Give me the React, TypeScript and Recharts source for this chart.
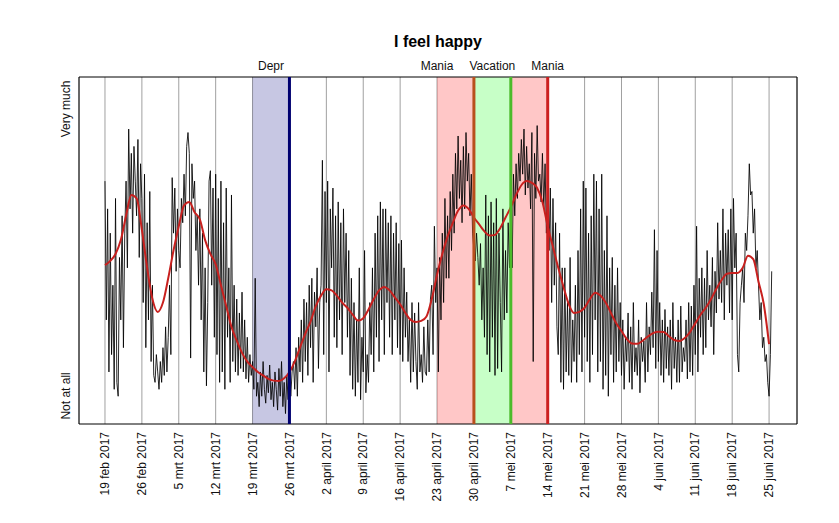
import React from 'react';
import { ComposedChart, Line, XAxis, YAxis, CartesianGrid, ReferenceArea, ReferenceLine } from 'recharts';

const FONT = '"Liberation Sans", Arial, sans-serif';

const chartTitle = 'I feel happy';

const weekLabels = [
  '19 feb 2017', '26 feb 2017', '5 mrt 2017', '12 mrt 2017', '19 mrt 2017', '26 mrt 2017',
  '2 april 2017', '9 april 2017', '16 april 2017', '23 april 2017', '30 april 2017',
  '7 mei 2017', '14 mei 2017', '21 mei 2017', '28 mei 2017', '4 juni 2017', '11 juni 2017',
  '18 juni 2017', '25 juni 2017',
];

const yTickValues = [8.1, 90.8];
const yTickLabels = ['Not at all', 'Very much'];

// four measurements per day, starting 19 feb 2017
const febScores = [
  70, 30, 62, 15, 55, 20, 40, 10, 65, 12, 8, 48, 30, 60, 22, 55, 70, 45, 85, 62,
  78, 55, 80, 70, 60, 82, 48, 75, 65, 35, 72, 22, 58, 30, 67, 18, 40, 14, 12, 20,
];
const mrtScores = [
  15, 10, 18, 12, 22, 14, 28, 15, 25, 40, 20, 71, 55, 68, 44, 62, 50, 45, 65, 58,
  72, 60, 80, 84, 78, 19, 75, 65, 70, 50, 60, 40, 62, 30, 55, 15, 45, 11, 35, 70,
  73, 40, 68, 25, 72, 20, 65, 12, 70, 15, 58, 10, 68, 25, 45, 12, 66, 18, 40, 15,
  36, 14, 32, 16, 38, 15, 30, 13, 25, 12, 20, 14, 18, 10, 42, 8, 12, 5, 15, 8,
  18, 10, 6, 14, 9, 17, 7, 12, 5, 15, 10, 4, 16, 8, 18, 5, 12, 3, 14, 7,
  20, 8, 15, 18, 10, 22, 8, 25, 15, 30, 12, 36, 18, 35, 14, 40, 22, 42, 12, 38,
  28, 45, 16, 35,
];
const aprilScores = [
  40, 76, 20, 67, 35, 70, 15, 62, 45, 68, 25, 60, 22, 64, 30, 58, 20, 62, 35, 55,
  25, 50, 14, 42, 10, 35, 8, 30, 12, 45, 7, 25, 15, 50, 9, 20, 12, 35, 20, 45,
  15, 55, 25, 60, 18, 64, 30, 62, 20, 62, 35, 58, 25, 60, 20, 55, 30, 58, 22, 52,
  20, 53, 18, 45, 25, 38, 18, 30, 12, 35, 15, 32, 18, 10, 35, 15, 20, 12, 28, 15,
  14, 30, 15, 36, 40, 20, 57, 35, 45, 15, 48, 30, 55, 35, 65, 42, 60, 42, 67, 50,
  72, 55, 78, 62, 83, 65, 76, 58, 80, 62, 84, 70, 78, 60, 72, 55, 50, 47, 55, 48,
];
const meiScores = [
  40, 52, 30, 45, 25, 66, 20, 60, 15, 64, 25, 58, 14, 65, 16, 55, 35, 15, 62, 30,
  50, 32, 58, 45, 62, 45, 72, 60, 75, 65, 78, 70, 82, 72, 85, 66, 80, 68, 75, 62,
  84, 18, 78, 65, 86, 70, 72, 64, 78, 62, 75, 55, 70, 50, 68, 35, 65, 40, 58, 28,
  20, 55, 12, 45, 10, 45, 15, 35, 14, 48, 12, 30, 18, 40, 12, 50, 20, 62, 15, 70,
  25, 68, 18, 55, 12, 60, 20, 72, 30, 70, 15, 62, 18, 72, 10, 50, 14, 60, 8, 45,
  20, 48, 12, 40, 15, 45, 18, 35, 14, 30, 10, 25, 18, 32, 12, 28, 10, 35, 15, 22,
  14, 30, 9, 25,
];
const juniScores = [
  18, 24, 12, 35, 15, 28, 20, 38, 22, 56, 16, 50, 18, 35, 14, 30, 12, 33, 16, 28,
  14, 30, 10, 35, 16, 25, 12, 30, 12, 34, 15, 22, 18, 30, 13, 35, 15, 34, 14, 40,
  20, 57, 15, 42, 25, 45, 20, 42, 22, 50, 30, 40, 28, 48, 20, 44, 32, 58, 36, 50,
  35, 62, 30, 55, 40, 56, 32, 62, 30, 65, 45, 55, 20, 15, 35, 40, 45, 35, 55, 50,
  60, 75, 66, 67, 55, 62, 45, 50, 40, 30, 35, 22, 25, 18, 20, 12, 8, 20, 44,
];

// smoothed trend, one value per day
const smoothTrend = [
  45.8, 47, 49, 53, 60, 66, 65, 56, 45, 36,
  32.3, 35, 42, 50, 57, 63, 64, 61, 59, 53,
  49, 46, 40, 34, 28, 24, 20.5, 18, 16.4, 15,
  14, 13, 12.5, 12.4, 13.2, 15, 18, 22, 26, 29.5,
  34, 37, 38.8, 38.5, 37, 35, 33.5, 31.5, 29.8, 30.5,
  33, 36, 38.5, 39.5, 38.5, 36.5, 34.5, 32, 30, 29.4,
  29.7, 31, 36, 43, 49, 54, 58, 61.5, 63, 62,
  59.5, 57.5, 55.5, 54.3, 54.5, 56.5, 59.5, 62.5, 66, 68.8,
  70, 69.5, 68, 64, 57, 51, 45, 39.5, 34.5, 32,
  32.3, 33.5, 36, 37.8, 37, 35, 32, 29, 26.8, 24.5,
  23.2, 23.1, 24, 25.2, 26.2, 26.6, 26.5, 25.3, 24.2, 23.9,
  24.8, 26.5, 29, 31.5, 33.5, 36, 39, 41.5, 43.3, 43.5,
  43.5, 45, 48.5, 47.5, 41, 34.5, 23,
];

const episodeStart = [28, 63, 70, 77];
const episodeEnd = [35, 70, 77, 84];
const episodeFill = ['#000080', '#ff0000', '#00ff00', '#ff0000'];
const episodeEndColor = ['#000070', '#b8501c', '#4cbb2a', '#cc2020'];
const labelNames = ['Depr', 'Mania', 'Vacation', 'Mania'];
const labelDays = [31.5, 63, 73.5, 84];

const X_DOMAIN: [number, number] = [-4.93, 131.3];
const Y_DOMAIN: [number, number] = [0, 100];

const allScores = [...febScores, ...mrtScores, ...aprilScores, ...meiScores, ...juniScores];
const rawData = allScores.map((v, i) => ({ day: i / 4, score: v }));
const trendData = smoothTrend.map((v, i) => ({ day: i, trend: v }));
const weekTicks = weekLabels.map((_, i) => i * 7);

const XTick = (props: any) => {
  const { x, y, payload } = props;
  const label = weekLabels[Math.round(payload.value / 7)];
  return (
    <g transform={`translate(${x},${y})`}>
      <text transform="rotate(-90)" x={-8} y={0} dy="0.35em" textAnchor="end" fontSize={12} fontFamily={FONT} fill="#111">
        {label}
      </text>
    </g>
  );
};

const YTick = (props: any) => {
  const { x, y, payload } = props;
  const idx = yTickValues.indexOf(payload.value);
  return (
    <g transform={`translate(${x - 13},${y})`}>
      <text transform="rotate(-90)" x={0} y={0} dy="0.35em" textAnchor="middle" fontSize={12} fontFamily={FONT} fill="#111">
        {yTickLabels[idx]}
      </text>
    </g>
  );
};

export default function App() {
  return (
    <div style={{ position: 'absolute', left: 0, top: 0, width: 839, height: 523, background: '#fff' }}>
      <svg width={839} height={60} style={{ position: 'absolute', left: 0, top: 0 }}>
        <text x={438} y={47} textAnchor="middle" fontSize={16} fontWeight="bold" fontFamily={FONT} fill="#000">
          {chartTitle}
        </text>
      </svg>
      <div style={{ position: 'absolute', left: 0, top: 0 }}>
        <ComposedChart width={839} height={523} margin={{ top: 77, right: 42, bottom: 9, left: 49 }}>
          <CartesianGrid horizontal={false} stroke="#a0a0a0" strokeWidth={1} />
          <XAxis
            dataKey="day"
            type="number"
            domain={X_DOMAIN}
            allowDataOverflow
            ticks={weekTicks}
            interval={0}
            height={90}
            tickLine={false}
            axisLine={false}
            tickSize={0}
            tickMargin={0}
            tick={<XTick />}
          />
          <YAxis
            type="number"
            domain={Y_DOMAIN}
            allowDataOverflow
            ticks={yTickValues}
            interval={0}
            width={30}
            tickLine={false}
            axisLine={false}
            tickSize={0}
            tickMargin={0}
            tick={<YTick />}
          />
          <Line data={rawData} dataKey="score" type="linear" stroke="#000" strokeWidth={0.85} dot={false} activeDot={false} isAnimationActive={false} />
          {episodeStart.map((s, i) => (
            <ReferenceArea key={`a${i}`} x1={s} x2={episodeEnd[i]} y1={Y_DOMAIN[0]} y2={Y_DOMAIN[1]} fill={episodeFill[i]} fillOpacity={0.22} stroke="none" />
          ))}
          <Line data={trendData} dataKey="trend" type="monotone" stroke="#c8201e" strokeWidth={2} dot={false} activeDot={false} isAnimationActive={false} />
          {episodeEnd.map((e, i) => (
            <ReferenceLine key={`l${i}`} x={e} stroke={episodeEndColor[i]} strokeWidth={3} />
          ))}
          {labelDays.map((d, i) => (
            <ReferenceLine
              key={`t${i}`}
              x={d}
              stroke="none"
              label={{ value: labelNames[i], position: 'top', offset: 7, fontSize: 12, fontFamily: FONT, fill: '#111' }}
            />
          ))}
          <ReferenceArea x1={X_DOMAIN[0]} x2={X_DOMAIN[1]} y1={Y_DOMAIN[0]} y2={Y_DOMAIN[1]} fill="none" stroke="#000" strokeWidth={1} ifOverflow="visible" />
        </ComposedChart>
      </div>
    </div>
  );
}
